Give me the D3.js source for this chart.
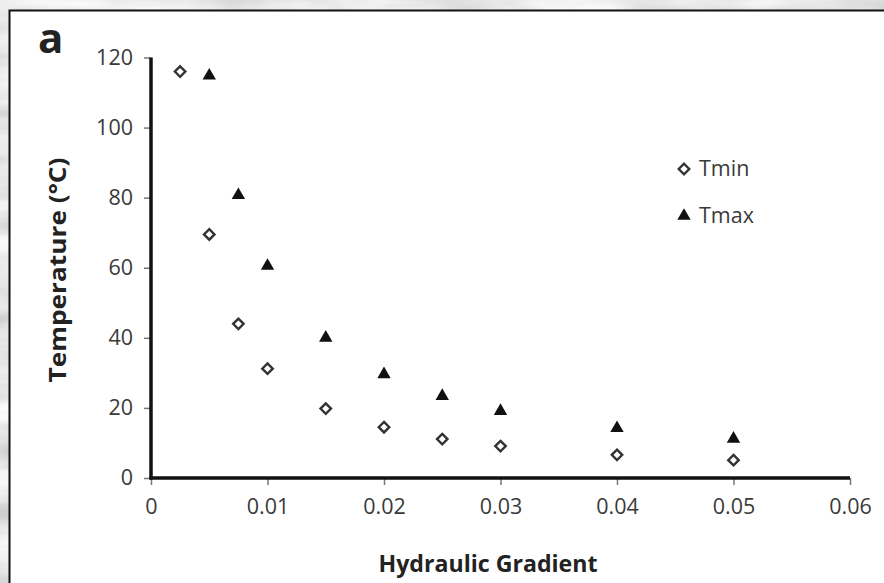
<!DOCTYPE html>
<html>
<head>
<meta charset="utf-8">
<script src="https://cdn.jsdelivr.net/npm/d3@7"></script>
<style>
  html, body { margin: 0; padding: 0; background: #d9d9d9; }
  svg { display: block; }
  text { font-family: "Open Sans", "Noto Sans", sans-serif; }
</style>
</head>
<body>
<div id="chart"></div>
<script>
// values
const gradient = [0.0025, 0.005, 0.0075, 0.01, 0.015, 0.02, 0.025, 0.03, 0.04, 0.05];
const tmin = [116, 69.5, 44, 31.2, 19.8, 14.5, 11.1, 9.1, 6.6, 5.1];
const gradientMax = [0.005, 0.0075, 0.01, 0.015, 0.02, 0.025, 0.03, 0.04, 0.05];
const tmax = [114.8, 80.7, 60.5, 40, 29.6, 23.4, 19.1, 14.2, 11.2];
const xTicks = [0, 0.01, 0.02, 0.03, 0.04, 0.05, 0.06];
const yTicks = [0, 20, 40, 60, 80, 100, 120];

const W = 884, H = 583;

const svg = d3.select("#chart").append("svg")
  .attr("width", W).attr("height", H);

// marble-ish background, just for the look
const defs = svg.append("defs");
const f = defs.append("filter").attr("id", "marble")
  .attr("x", 0).attr("y", 0).attr("width", "100%").attr("height", "100%");
f.append("feTurbulence").attr("type", "fractalNoise")
  .attr("baseFrequency", "0.006 0.03").attr("numOctaves", 4).attr("seed", 7);
f.append("feColorMatrix").attr("type", "matrix")
  .attr("values", "0.7 0 0 0 0.45  0.7 0 0 0 0.45  0.7 0 0 0 0.45  0 0 0 0 1");

svg.append("rect").attr("width", W).attr("height", H).attr("filter", "url(#marble)");

// white panel
svg.append("rect")
  .attr("x", 9.5).attr("y", 10.5).attr("width", W + 20).attr("height", H + 20)
  .attr("fill", "#fff").attr("stroke", "#111").attr("stroke-width", 2);

const x = d3.scaleLinear().domain([0, 0.06]).range([151, 850]);
const y = d3.scaleLinear().domain([0, 120]).range([478, 57.5]);

// y axis
const yAxis = svg.append("g").attr("transform", `translate(${x(0)},0)`)
  .call(d3.axisLeft(y).tickValues(yTicks).tickSize(7).tickPadding(11).tickFormat(d3.format("d")));
yAxis.select(".domain").remove();
yAxis.selectAll(".tick line").attr("stroke", "#777").attr("stroke-width", 1.5);
yAxis.selectAll(".tick text").attr("font-size", 21.5).attr("fill", "#3a3a3a");

// x axis
const xAxis = svg.append("g").attr("transform", `translate(0,${y(0)})`)
  .call(d3.axisBottom(x).tickValues(xTicks).tickSize(7).tickPadding(14)
    .tickFormat(d => d === 0 ? "0" : d3.format(".2f")(d)));
xAxis.select(".domain").remove();
xAxis.selectAll(".tick line").attr("stroke", "#777").attr("stroke-width", 1.5);
xAxis.selectAll(".tick text").attr("font-size", 21.5).attr("fill", "#3a3a3a");

// thick axis lines
svg.append("line").attr("x1", x(0)).attr("x2", x(0))
  .attr("y1", y(120)).attr("y2", y(0) + 1.5)
  .attr("stroke", "#111").attr("stroke-width", 3.5);
svg.append("line").attr("x1", x(0) - 1.5).attr("x2", x(0.06))
  .attr("y1", y(0)).attr("y2", y(0))
  .attr("stroke", "#111").attr("stroke-width", 3.5);

const diamond = d3.symbol().type(d3.symbolDiamond2).size(70);
const triangle = d3.symbol().type(d3.symbolTriangle).size(78);

// Tmin markers
svg.append("g").selectAll("path")
  .data(gradient.map((g, i) => [g, tmin[i]]))
  .join("path")
  .attr("d", diamond)
  .attr("transform", d => `translate(${x(d[0])},${y(d[1])})`)
  .attr("fill", "#fff").attr("stroke", "#333").attr("stroke-width", 2.4);

// Tmax markers
svg.append("g").selectAll("path")
  .data(gradientMax.map((g, i) => [g, tmax[i]]))
  .join("path")
  .attr("d", triangle)
  .attr("transform", d => `translate(${x(d[0])},${y(d[1])})`)
  .attr("fill", "#111");

// legend
const legend = svg.append("g");
legend.append("path").attr("d", diamond).attr("transform", "translate(684,169)")
  .attr("fill", "#fff").attr("stroke", "#333").attr("stroke-width", 2.4);
legend.append("text").attr("x", 699).attr("y", 176).attr("font-size", 21.5)
  .attr("fill", "#3a3a3a").text("Tmin");
legend.append("path").attr("d", triangle).attr("transform", "translate(684,216)")
  .attr("fill", "#111");
legend.append("text").attr("x", 699).attr("y", 223).attr("font-size", 21.5)
  .attr("fill", "#3a3a3a").text("Tmax");

// titles
svg.append("text").attr("x", 38).attr("y", 53).attr("font-size", 42)
  .attr("font-weight", "bold").attr("fill", "#222").text("a");

svg.append("text")
  .attr("transform", "translate(66,270) rotate(-90)")
  .attr("text-anchor", "middle").attr("font-size", 23).attr("font-weight", "bold")
  .attr("textLength", 225).attr("lengthAdjust", "spacingAndGlyphs")
  .attr("fill", "#222").text("Temperature (°C)");

svg.append("text").attr("x", 488).attr("y", 572)
  .attr("text-anchor", "middle").attr("font-size", 23).attr("font-weight", "bold")
  .attr("textLength", 219).attr("lengthAdjust", "spacingAndGlyphs")
  .attr("fill", "#222").text("Hydraulic Gradient");
</script>
</body>
</html>
